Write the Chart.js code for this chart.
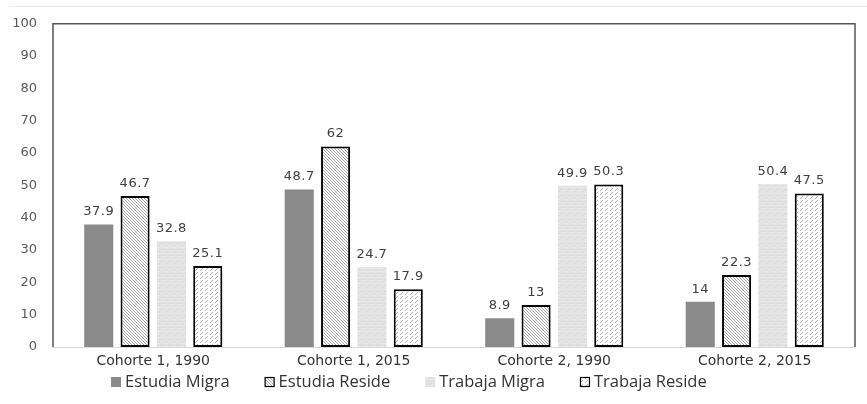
<!DOCTYPE html>
<html>
<head>
<meta charset="utf-8">
<script src="https://cdn.jsdelivr.net/npm/chart.js@4/dist/chart.umd.min.js"></script>
<style>
  body { margin: 0; background: #fff; }
  #wrap { width: 867px; height: 404px; position: relative; }
</style>
</head>
<body>
<div id="wrap"><canvas id="grafico"></canvas></div>
<script>
// datos
const cohortes = ['Cohorte 1, 1990', 'Cohorte 1, 2015', 'Cohorte 2, 1990', 'Cohorte 2, 2015'];
const series = ['Estudia Migra', 'Estudia Reside', 'Trabaja Migra', 'Trabaja Reside'];
const estudiaMigra = [37.9, 48.7, 8.9, 14];
const estudiaReside = [46.7, 62, 13, 22.3];
const trabajaMigra = [32.8, 24.7, 49.9, 50.4];
const trabajaReside = [25.1, 17.9, 50.3, 47.5];
const yTicks = [0, 10, 20, 30, 40, 50, 60, 70, 80, 90, 100];

// patterns for the fills
function makeTile(w, h, draw) {
  const c = document.createElement('canvas');
  c.width = w; c.height = h;
  const ctx = c.getContext('2d');
  draw(ctx);
  return document.getElementById('grafico').getContext('2d').createPattern(c, 'repeat');
}

const solidGray = '#8a8a8a';

const diagHatch = makeTile(3, 3, ctx => {
  ctx.fillStyle = '#fff';
  ctx.fillRect(0, 0, 3, 3);
  ctx.fillStyle = '#a8a8a8';
  ctx.fillRect(0, 0, 1, 1);
  ctx.fillRect(1, 1, 1, 1);
  ctx.fillRect(2, 2, 1, 1);
});

const lightTexture = makeTile(8, 6, ctx => {
  ctx.fillStyle = '#e2e2e2';
  ctx.fillRect(0, 0, 8, 6);
  ctx.fillStyle = '#e9e9e9';
  ctx.fillRect(0, 1, 8, 1);
  ctx.fillRect(2, 4, 5, 1);
  ctx.fillStyle = '#dcdcdc';
  ctx.fillRect(0, 3, 6, 1);
  ctx.fillRect(5, 5, 3, 1);
});

const dashHatch = makeTile(5, 4, ctx => {
  ctx.fillStyle = '#fff';
  ctx.fillRect(0, 0, 5, 4);
  ctx.fillStyle = '#b0b0b0';
  ctx.fillRect(0, 2, 1, 1);
  ctx.fillRect(1, 1, 1, 1);
  ctx.fillRect(2, 0, 1, 1);
});

const fills = [solidGray, diagHatch, lightTexture, dashHatch];
const borders = [0, 2, 0, 2];

const datasets = [estudiaMigra, estudiaReside, trabajaMigra, trabajaReside].map((vals, i) => ({
  label: series[i],
  data: vals,
  backgroundColor: fills[i],
  borderColor: '#000',
  borderWidth: borders[i],
  borderSkipped: false,
  categoryPercentage: 0.725,
  barPercentage: 0.8
}));

// box round the plot, labels above bars, legend at the bottom
const extras = {
  id: 'extras',
  beforeDatasetsDraw(chart) {
    const { ctx, chartArea: a } = chart;
    ctx.save();
    ctx.strokeStyle = '#ebebeb';
    ctx.lineWidth = 1;
    ctx.beginPath();
    ctx.moveTo(9, 6.5); ctx.lineTo(867, 6.5);
    ctx.stroke();
    ctx.strokeStyle = '#d9d9d9';
    ctx.beginPath();
    ctx.moveTo(a.left, a.bottom + 0.5); ctx.lineTo(a.right, a.bottom + 0.5);
    ctx.stroke();
    ctx.strokeStyle = '#555';
    ctx.lineWidth = 1.5;
    ctx.beginPath();
    ctx.moveTo(a.left, a.bottom);
    ctx.lineTo(a.left, a.top);
    ctx.lineTo(a.right, a.top);
    ctx.lineTo(a.right, a.bottom);
    ctx.stroke();
    ctx.restore();
  },
  afterDraw(chart) {
    const ctx = chart.ctx;
    ctx.save();
    ctx.font = '13px "DejaVu Sans"';
    ctx.letterSpacing = '0.5px';
    ctx.fillStyle = '#404040';
    ctx.textAlign = 'center';
    ctx.textBaseline = 'bottom';
    chart.data.datasets.forEach((ds, i) => {
      chart.getDatasetMeta(i).data.forEach((bar, j) => {
        ctx.fillText(String(ds.data[j]), bar.x, bar.y - 6);
      });
    });

    // legend
    ctx.letterSpacing = '0px';
    ctx.font = '16.5px "Open Sans"';
    ctx.textAlign = 'left';
    ctx.textBaseline = 'middle';
    let x = 111;
    const y = 382;
    chart.data.datasets.forEach((ds, i) => {
      ctx.fillStyle = fills[i];
      ctx.fillRect(x, y - 5, 10, 10);
      if (borders[i]) {
        ctx.strokeStyle = '#000';
        ctx.lineWidth = 1.2;
        ctx.strokeRect(x + 0.5, y - 4.5, 9, 9);
      }
      ctx.fillStyle = '#333';
      ctx.fillText(ds.label, x + 14, y);
      x += 14 + ctx.measureText(ds.label).width + 35;
    });
    ctx.restore();
  }
};

new Chart(document.getElementById('grafico'), {
  type: 'bar',
  data: { labels: cohortes, datasets: datasets },
  options: {
    responsive: true,
    maintainAspectRatio: false,
    animation: false,
    layout: { padding: { top: 22, right: 12, left: 0, bottom: 0 } },
    plugins: { legend: { display: false }, tooltip: { enabled: false } },
    scales: {
      x: {
        grid: { display: false, drawTicks: false },
        border: { display: false },
        ticks: { color: '#333', font: { family: 'DejaVu Sans', size: 14 }, padding: 6, maxRotation: 0 },
        afterFit(scale) { scale.height = 57; }
      },
      y: {
        min: 0,
        max: 100,
        afterBuildTicks(scale) { scale.ticks = yTicks.map(v => ({ value: v })); },
        grid: { display: false, drawTicks: false },
        border: { display: false },
        ticks: { color: '#595959', font: { family: 'DejaVu Sans', size: 13 }, padding: 16 },
        afterFit(scale) { scale.width = 53; }
      }
    }
  },
  plugins: [extras]
});
</script>
</body>
</html>
